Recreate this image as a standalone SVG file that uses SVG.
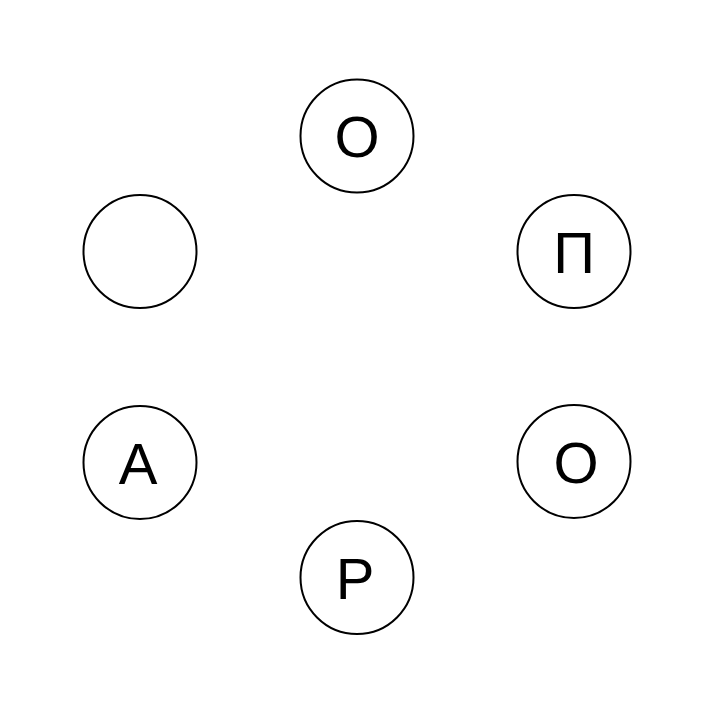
<svg xmlns="http://www.w3.org/2000/svg" width="720" height="720" viewBox="0 0 720 720">
<style>
.n circle{fill:#fff;stroke:#000;stroke-width:2}
.n text{font-family:"Liberation Sans",Arial,sans-serif;font-size:58px;fill:#000;text-anchor:middle}
</style>
<rect width="720" height="720" fill="#fff"/>
<g id="connectors"/>
<g id="n1" class="n"><circle cx="357" cy="136" r="56.5"/><text x="357" y="157">О</text></g>
<g id="n2" class="n"><circle cx="574" cy="251.5" r="56.5"/><text x="574" y="273">П</text></g>
<g id="n3" class="n"><circle cx="574" cy="461.5" r="56.5"/><text x="576" y="483">О</text></g>
<g id="n4" class="n"><circle cx="357" cy="577.5" r="56.5"/><text x="355" y="599">Р</text></g>
<g id="n5" class="n"><circle cx="140" cy="462.5" r="56.5"/><text x="138" y="484">А</text></g>
<g id="n6" class="n"><circle cx="140" cy="251.5" r="56.5"/></g>
</svg>
